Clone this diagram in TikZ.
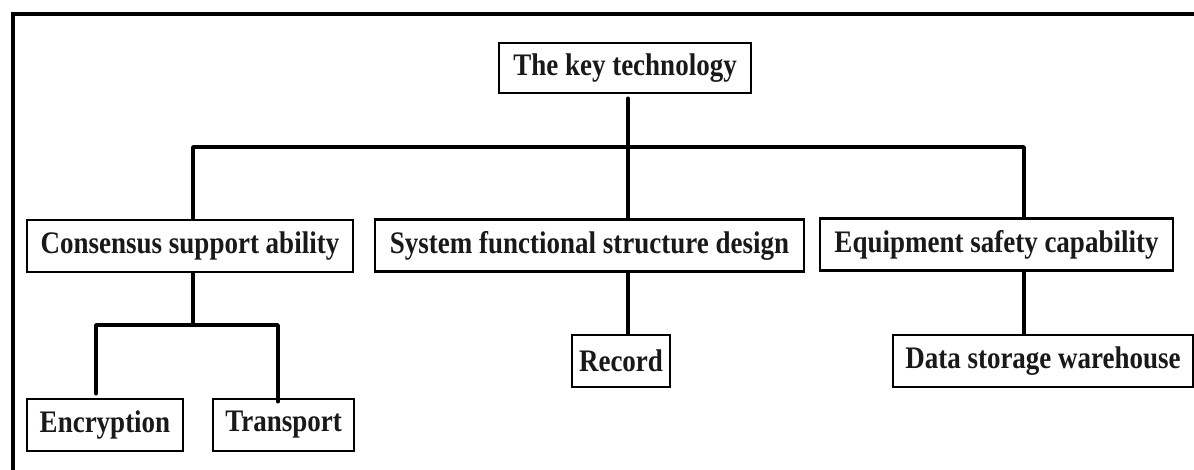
\documentclass[tikz,border=0pt]{standalone}
\usepackage{fontspec}
\setmainfont{Liberation Serif}
\newcommand\lbl[1]{\scalebox{1}[1.16]{#1}}
\begin{document}
\begin{tikzpicture}[x=1pt,y=-1pt,
  box/.style={draw=black,line width=2.6pt,rectangle,inner sep=0pt,
    font=\fontsize{27}{30}\selectfont\bfseries,text=black!90},
  link/.style={draw=black,line width=3.6pt,line join=round,line cap=round}]
\useasboundingbox (0,0) rectangle (1194,469);
% outer frame, only its top and left sides fall inside the page
\draw[line width=4pt] (12.5,475) -- (12.5,14) -- (1200,14);

% nodes
\node[box,minimum width=252pt,minimum height=50pt] (top) at (625,68) {\lbl{The key technology}};
\node[box,minimum width=326pt,minimum height=52pt] (cons) at (190,246) {\lbl{Consensus support ability}};
\node[box,minimum width=429pt,minimum height=52pt] (sys) at (589.5,245.5) {\lbl{System functional structure design}};
\node[box,minimum width=353pt,minimum height=52pt] (equip) at (996.5,244.5) {\lbl{Equipment safety capability}};
\node[box,minimum width=156pt,minimum height=52pt] (enc) at (105,425) {\lbl{Encryption}};
\node[box,minimum width=141pt,minimum height=52pt] (trans) at (283.5,425) {\lbl{Transport}};
\node[box,minimum width=98pt,minimum height=52pt] (rec) at (621,361) {\lbl{Record}};
\node[box,minimum width=300pt,minimum height=52pt] (data) at (1043,361) {\lbl{Data storage warehouse}};

% branching points
\coordinate (hub) at (628,147);
\coordinate (busL) at (193,147);
\coordinate (busR) at (1024,147);
\coordinate (sub) at (193,325);
\coordinate (subL) at (96,325);
\coordinate (subR) at (278,325);

% connectors
\draw[link] (top.south -| hub) ++(0,4) -- (hub);
\draw[link] (cons.north -| busL) -- (busL) -- (busR) -- (equip.north -| busR);
\draw[link] (hub) -- (sys.north -| hub);
\draw[link] (sys.south -| hub) -- (rec.north -| hub);
\draw[link] (equip.south -| busR) -- (data.north -| busR);
\draw[link] (cons.south -| sub) -- (sub);
\draw[link] (enc.north -| subL) ++(0,-4) -- (subL) -- (subR) -- ([yshift=-4pt]trans.north -| subR);
\end{tikzpicture}
\end{document}
